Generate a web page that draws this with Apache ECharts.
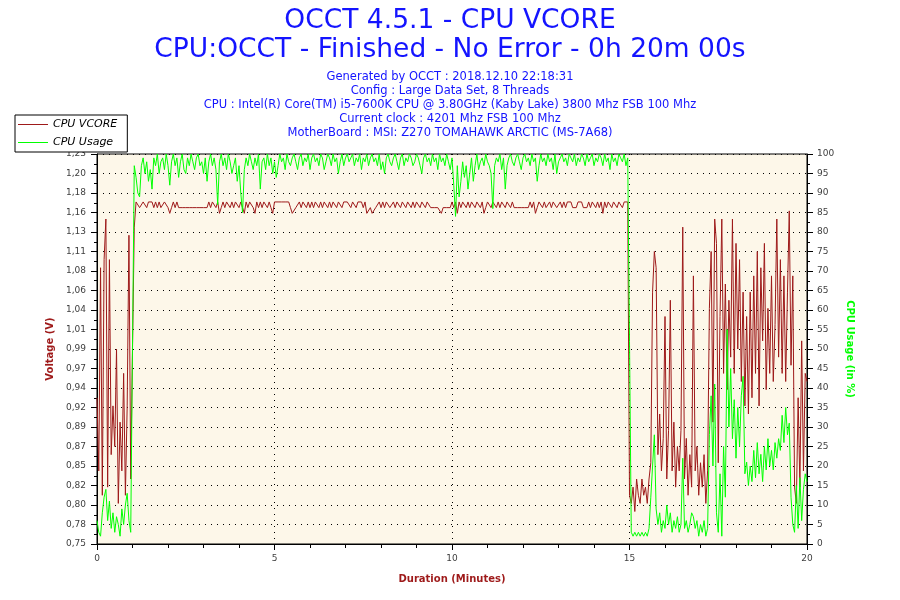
<!DOCTYPE html>
<html>
<head>
<meta charset="utf-8">
<script src="https://cdn.jsdelivr.net/npm/echarts@6/dist/echarts.min.js"></script>
<style>
html,body{margin:0;padding:0;background:#fff;}
#chart{width:900px;height:600px;}
</style>
</head>
<body>
<div id="chart"></div>
<script>
// ---- Data ----
const sampleStepMinutes = 0.05; // one sample every 3 seconds, 0..20 min
const seriesNames = ['CPU VCORE', 'CPU Usage'];
const xTickLabels = ['0', '5', '10', '15', '20'];
const voltTickLabels = ['0,75','0,78','0,80','0,82','0,85','0,87','0,89','0,92','0,94','0,97','0,99','1,01','1,04','1,06','1,08','1,11','1,13','1,16','1,18','1,20','1,23'];
const usageTickLabels = ['0','5','10','15','20','25','30','35','40','45','50','55','60','65','70','75','80','85','90','95','100'];

const vcoreVolts = [
  // 0 - 1.05 min
  0.93,0.84,1.09,0.81,1.10,1.15,0.82,1.10,0.86,0.92,0.87,0.99,0.80,0.90,0.84,0.96,0.81,0.92,1.13,0.83,
  0.99,1.14,
  // 1.10 - 14.95 min (load plateau)
  1.171,1.171,1.164,1.164,1.171,1.171,1.164,1.171,1.171,1.171,1.164,1.171,1.164,1.171,1.164,1.164,1.171,1.171,1.164,1.157,
  1.164,1.171,1.164,1.171,1.164,1.164,1.164,1.164,1.164,1.164,1.164,1.164,1.164,1.164,1.164,1.164,1.164,1.164,1.164,1.164,
  1.164,1.171,1.164,1.171,1.171,1.164,1.171,1.157,1.164,1.171,1.164,1.171,1.171,1.164,1.171,1.164,1.171,1.171,1.164,1.171,
  1.164,1.157,1.171,1.164,1.171,1.171,1.164,1.157,1.171,1.164,1.171,1.164,1.171,1.171,1.164,1.171,1.164,1.157,1.171,1.171,
  1.171,1.171,1.171,1.171,1.171,1.171,1.171,1.164,1.157,1.157,1.164,1.164,1.171,1.164,1.171,1.171,1.164,1.171,1.164,1.171,
  1.164,1.171,1.171,1.164,1.171,1.164,1.171,1.171,1.164,1.171,1.164,1.171,1.171,1.164,1.171,1.171,1.164,1.171,1.171,1.171,
  1.171,1.164,1.171,1.171,1.164,1.171,1.171,1.171,1.164,1.171,1.157,1.157,1.164,1.157,1.157,1.164,1.164,1.171,1.164,1.171,
  1.164,1.171,1.171,1.164,1.164,1.171,1.164,1.171,1.171,1.164,1.171,1.171,1.164,1.171,1.171,1.164,1.171,1.164,1.171,1.171,
  1.164,1.171,1.171,1.164,1.171,1.171,1.164,1.164,1.164,1.164,1.164,1.164,1.157,1.164,1.164,1.164,1.164,1.164,1.171,1.164,
  1.171,1.157,1.171,1.164,1.171,1.171,1.164,1.171,1.164,1.171,1.171,1.164,1.171,1.171,1.164,1.171,1.157,1.164,1.171,1.171,
  1.164,1.171,1.171,1.164,1.171,1.164,1.171,1.171,1.164,1.171,1.171,1.164,1.171,1.164,1.164,1.164,1.164,1.164,1.164,1.164,
  1.164,1.164,1.171,1.164,1.171,1.157,1.164,1.171,1.171,1.164,1.171,1.164,1.164,1.171,1.164,1.171,1.171,1.164,1.164,1.171,
  1.164,1.171,1.164,1.171,1.171,1.171,1.164,1.164,1.164,1.171,1.171,1.171,1.164,1.164,1.164,1.171,1.164,1.171,1.171,1.164,
  1.171,1.164,1.171,1.157,1.171,1.164,1.171,1.171,1.164,1.171,1.171,1.164,1.171,1.171,1.164,1.171,1.171,1.171,
  // 15.00 - 20.00 min
  0.81,0.80,0.82,0.79,0.83,0.81,0.80,0.83,0.81,0.82,
  0.80,0.83,0.85,1.06,1.11,1.09,0.86,0.91,0.84,0.88,
  1.03,0.83,0.89,1.05,0.84,0.90,0.82,0.87,0.84,0.89,
  1.14,0.83,0.88,0.81,0.86,0.82,1.08,0.84,0.87,0.81,
  0.85,0.82,0.86,0.80,0.84,1.04,1.11,0.90,1.15,1.12,
  0.85,1.03,1.15,0.96,1.07,0.94,1.05,0.98,1.15,0.96,
  1.12,0.99,1.10,0.95,1.06,0.92,1.03,0.91,1.06,0.93,
  1.08,0.96,1.11,0.92,1.09,1.00,1.12,0.94,1.04,0.96,
  1.08,0.95,1.02,1.15,0.98,1.10,0.96,1.08,0.95,1.06,
  1.16,0.97,1.08,0.82,0.80,0.93,0.82,1.00,0.84,0.96,
  0.95
];

const cpuUsagePct = [
  // 0 - 1.05 min
  6,3,2,8,12,14,6,11,4,8,3,7,5,2,9,5,10,13,6,3,
  51,97,
  // 1.10 - 14.95 min
  94,90,89,97,99,95,98,93,96,91,99,97,100,95,98,99,96,100,97,92,
  98,100,97,99,94,98,100,96,95,99,97,100,98,96,99,100,97,98,95,99,
  93,98,100,97,99,96,87,98,100,97,99,96,100,98,95,97,99,93,97,90,
  85,96,99,97,100,98,96,99,97,100,91,98,99,96,100,97,99,95,98,94,
  97,100,98,99,96,100,98,97,99,100,98,96,99,100,97,99,98,100,96,99,
  100,98,99,97,100,99,96,98,100,99,97,100,98,99,95,98,100,97,99,100,
  98,99,100,97,99,98,100,96,99,98,100,97,99,100,98,99,97,100,96,98,
  95,99,100,98,97,99,100,98,96,99,100,97,99,98,100,99,97,98,100,99,
  97,95,99,100,98,99,97,100,98,99,96,100,98,99,97,100,98,96,99,92,
  84,97,89,93,98,94,97,91,95,99,93,97,100,96,98,99,97,100,98,97,
  95,86,97,99,98,100,96,99,91,97,99,100,98,97,99,100,98,96,99,100,
  98,99,97,100,98,99,93,97,100,98,99,97,100,98,99,96,100,95,98,99,
  100,98,99,97,100,99,98,100,97,99,98,100,99,97,100,98,99,100,97,99,
  98,100,99,97,100,98,99,96,100,98,99,97,100,99,98,100,97,99,
  // 15.00 - 20.00 min
  52,3,2,3,2,3,2,3,2,3,
  2,4,12,20,28,9,5,8,3,6,
  4,10,5,8,3,6,4,7,3,5,
  22,4,6,3,5,8,7,4,6,2,
  5,3,6,2,4,28,38,20,41,8,
  3,18,2,25,12,55,30,45,27,37,
  22,35,25,38,43,18,21,15,20,16,
  24,17,26,18,23,16,25,19,27,20,
  24,19,26,22,27,24,33,26,35,28,
  31,12,5,3,15,4,17,6,14,18,
  16
];

const titleLines = [
  'OCCT 4.5.1 - CPU VCORE',
  'CPU:OCCT - Finished - No Error - 0h 20m 00s'
];
const infoLines = [
  'Generated by OCCT : 2018.12.10 22:18:31',
  'Config : Large Data Set, 8 Threads',
  'CPU : Intel(R) Core(TM) i5-7600K CPU @ 3.80GHz (Kaby Lake) 3800 Mhz FSB 100 Mhz',
  'Current clock : 4201 Mhz FSB 100 Mhz',
  'MotherBoard : MSI: Z270 TOMAHAWK ARCTIC (MS-7A68)'
];

// ---- Chart ----
const FONT = 'DejaVu Sans';
const RED = '#9E1A1A';
const GREEN = '#00FF00';
const BLUE = '#1414FF';
const VMIN = 0.75, VMAX = 1.23, VSTEP = 0.024;

function toPairs(values) {
  return values.map((v, i) => [Math.round(i * sampleStepMinutes * 100) / 100, v]);
}

const graphics = [];
const titleY = [21, 50];
titleLines.forEach((t, i) => graphics.push({
  type: 'text', z: 10,
  style: { x: 450, y: titleY[i], text: t, textAlign: 'center', textVerticalAlign: 'middle',
    font: '26.5px "' + FONT + '"', fill: BLUE }
}));
infoLines.forEach((t, i) => graphics.push({
  type: 'text', z: 10,
  style: { x: 450, y: 77 + i * 13.9, text: t, textAlign: 'center', textVerticalAlign: 'middle',
    font: '11.5px "' + FONT + '"', fill: BLUE }
}));

const chart = echarts.init(document.getElementById('chart'), null, { renderer: 'canvas' });
chart.setOption({
  animation: false,
  backgroundColor: '#fff',
  textStyle: { fontFamily: FONT },
  graphic: graphics,
  legend: {
    data: seriesNames.map((n, i) => ({ name: n, icon: 'rect', itemStyle: { color: i ? GREEN : RED } })),
    left: 15, top: 115,
    orient: 'vertical',
    itemWidth: 30, itemHeight: 1, itemGap: 7,
    padding: [4, 10, 4, 3],
    borderColor: '#000', borderWidth: 1, backgroundColor: '#fff',
    textStyle: { fontStyle: 'italic', fontSize: 11, color: '#000', fontFamily: FONT, lineHeight: 11 }
  },
  grid: {
    left: 97, right: 93, top: 154, bottom: 56,
    show: true, backgroundColor: '#FDF7E9', borderColor: '#000', borderWidth: 1
  },
  xAxis: {
    type: 'value', min: 0, max: 20, interval: 5,
    axisLine: { show: true, lineStyle: { color: '#000' } },
    axisTick: { show: true, length: 6, lineStyle: { color: '#000' } },
    minorTick: { show: true, splitNumber: 5, length: 4, lineStyle: { color: '#000' } },
    splitLine: { show: true, lineStyle: { color: '#000', type: [1, 5] } },
    axisLabel: { fontSize: 9, color: '#404040', margin: 10,
      formatter: (v) => xTickLabels[Math.round(v / 5)] },
    name: 'Duration (Minutes)', nameLocation: 'middle', nameGap: 30,
    nameTextStyle: { color: RED, fontWeight: 'bold', fontSize: 10, fontFamily: FONT }
  },
  yAxis: [
    {
      type: 'value', position: 'left', min: VMIN, max: VMAX, interval: VSTEP,
      axisLine: { show: true, lineStyle: { color: '#000' } },
      axisTick: { show: true, length: 6, lineStyle: { color: '#000' } },
      minorTick: { show: true, splitNumber: 2, length: 3, lineStyle: { color: '#000' } },
      splitLine: { show: false },
      axisLabel: { fontSize: 9, color: '#404040', margin: 11,
        formatter: (v) => voltTickLabels[Math.round((v - VMIN) / VSTEP)] },
      name: 'Voltage (V)', nameLocation: 'middle', nameGap: 42,
      nameTextStyle: { color: RED, fontWeight: 'bold', fontSize: 10, fontFamily: FONT }
    },
    {
      type: 'value', position: 'right', min: 0, max: 100, interval: 5,
      axisLine: { show: true, lineStyle: { color: '#000' } },
      axisTick: { show: true, length: 6, lineStyle: { color: '#000' } },
      minorTick: { show: true, splitNumber: 2, length: 3, lineStyle: { color: '#000' } },
      splitLine: { show: true, lineStyle: { color: '#000', type: [1, 5] } },
      axisLabel: { fontSize: 9, color: '#404040', margin: 10,
        formatter: (v) => usageTickLabels[Math.round(v / 5)] },
      name: 'CPU Usage (in %)', nameLocation: 'middle', nameGap: 38, nameRotate: -90,
      nameTextStyle: { color: GREEN, fontWeight: 'bold', fontSize: 10, fontFamily: FONT }
    }
  ],
  series: [
    {
      name: seriesNames[0], type: 'line', yAxisIndex: 0, symbol: 'none', showSymbol: false,
      lineStyle: { color: RED, width: 1 }, itemStyle: { color: RED },
      data: toPairs(vcoreVolts), z: 2
    },
    {
      name: seriesNames[1], type: 'line', yAxisIndex: 1, symbol: 'none', showSymbol: false,
      lineStyle: { color: GREEN, width: 1 }, itemStyle: { color: GREEN },
      data: toPairs(cpuUsagePct), z: 3
    }
  ]
});
</script>
</body>
</html>
